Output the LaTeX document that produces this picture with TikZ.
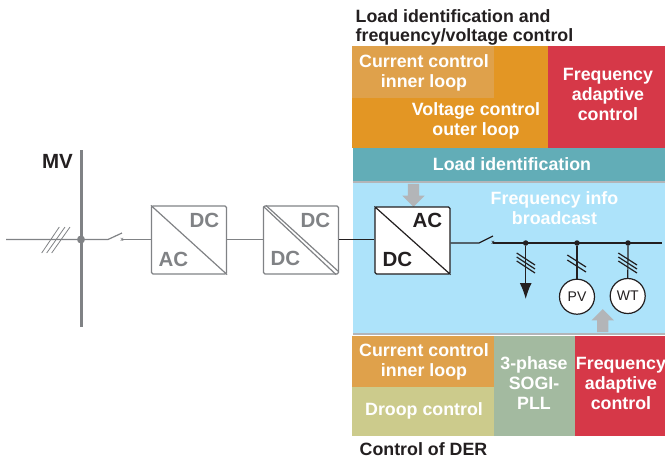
\documentclass[tikz,border=0pt]{standalone}
\usepackage{fontspec}
\setmainfont{Liberation Sans}
\usetikzlibrary{shapes}
\usetikzlibrary{shapes.arrows}
\usetikzlibrary{arrows.meta}
\definecolor{orangeb}{HTML}{E39624}
\definecolor{oranger}{HTML}{DFA14B}
\definecolor{redb}{HTML}{D63848}
\definecolor{tealb}{HTML}{62ADB7}
\definecolor{blueb}{HTML}{ADE3FA}
\definecolor{greenb}{HTML}{A3BAA0}
\definecolor{droopb}{HTML}{CCCB8C}
\definecolor{greyl}{HTML}{B3B5B8}
\definecolor{greyd}{HTML}{808285}
\definecolor{blackd}{HTML}{231F20}
\tikzset{
    box/.style = {rectangle, inner sep=0pt, align=center, text=white,font=\fontsize{17.8}{20}\selectfont\bfseries},
    boxtext/.style = {inner sep=0pt, align=center, text=white,font=\fontsize{17.8}{20}\selectfont\bfseries},
    headtext/.style = {inner sep=0pt, align=left, text=blackd,font=\fontsize{17.8}{19.5}\selectfont\bfseries},
    convg/.style = {rectangle, draw=greyd, line width=1.2pt, rounded corners=1.5pt, inner sep=0pt, minimum width=75pt, minimum height=68pt},
    convb/.style = {rectangle, draw=blackd, fill=white, line width=1.2pt, rounded corners=1.5pt, inner sep=0pt, minimum width=75pt, minimum height=67pt},
    convtextg/.style = {inner sep=0pt, text=greyd,font=\fontsize{20.5}{22}\selectfont\bfseries},
    convtextb/.style = {inner sep=0pt, text=blackd,font=\fontsize{20.5}{22}\selectfont\bfseries},
    lineg/.style = {draw=greyd, line width=1.2pt},
    lineb/.style = {draw=blackd, line width=1.2pt},
    bigarrow/.style = {single arrow, fill=greyl, inner sep=5.5pt, single arrow head extend=5.5pt, minimum height=23pt},
    junction/.style = {circle, inner sep=0pt, minimum size=5.5pt, fill=blackd},
    source/.style = {circle, draw=blackd, fill=white, line width=1.2pt, inner sep=0pt, minimum size=35pt, text=blackd, font=\fontsize{14}{16}\selectfont},
}
\begin{document}
\begin{tikzpicture}[x=1pt,y=-1pt]
  \useasboundingbox (0,0) rectangle (665,459);

  \node[box, fill=blueb, minimum width=312pt, minimum height=152pt] (feeder) at (509,258) {};
  \draw[greyl, line width=2pt] (feeder.north west) -- (feeder.north east);
  \draw[greyl, line width=2pt] (feeder.south west) -- (feeder.south east);

  \node[box, fill=orangeb, minimum width=196pt, minimum height=102pt] (outer) at (450,97) {};
  \node[box, fill=oranger, minimum width=142pt, minimum height=52pt] (inner) at (423,72) {};
  \node[boxtext] (innertext) at (424,72.5) {Current control\\inner loop};
  \node[boxtext] (outertext) at (476,121) {Voltage control\\outer loop};
  \node[box, fill=redb, minimum width=117pt, minimum height=102pt] (freqtop) at (606.5,97) {};
  \node[boxtext] (freqtoptext) at (608,94.5) {Frequency\\adaptive\\control};
  \node[box, fill=tealb, minimum width=312pt, minimum height=33pt] (loadid) at (509,164.5) {};
  \node[boxtext] (loadidtext) at (512,164) {Load identification};
  \node[headtext, anchor=west] (headtop) at (355.5,27.5) {Load identification and\\frequency/voltage control};
  \node[boxtext] (broadcast) at (554.5,208) {Frequency info\\broadcast};

  \node[box, fill=oranger, minimum width=142pt, minimum height=51pt] (innerder) at (423,361.5) {};
  \node[boxtext] (innerdertext) at (424,361.5) {Current control\\inner loop};
  \node[box, fill=droopb, minimum width=142pt, minimum height=49pt] (droop) at (423,411.5) {};
  \node[boxtext] (drooptext) at (424,410.5) {Droop control};
  \node[box, fill=greenb, minimum width=81pt, minimum height=100pt] (pll) at (534.5,386) {};
  \node[boxtext] (plltext) at (534,383) {3-phase\\SOGI-\\PLL};
  \node[box, fill=redb, minimum width=90pt, minimum height=100pt] (freqder) at (620,386) {};
  \node[boxtext] (freqdertext) at (621,383.5) {Frequency\\adaptive\\control};
  \node[headtext, anchor=west] (headder) at (359.5,449) {Control of DER};

  \node[bigarrow, shape border rotate=270] (arrowtop) at (413.5,192.5) {};
  \node[bigarrow, shape border rotate=90] (arrowder) at (602.7,323.5) {};

  % medium voltage side
  \coordinate (bustop) at (81,150);
  \coordinate (busbot) at (81,327);
  \coordinate (feedin) at (6,239.5);
  \coordinate (swaleft) at (108,239.5);
  \coordinate (swaright) at (122,239.5);
  \coordinate (swatip) at (122,233);
  \draw[greyd, line width=3pt] (bustop) -- (busbot);
  \node[circle, inner sep=0pt, minimum size=8pt, fill=greyd] (busdot) at (81,239.5) {};
  \node[font=\fontsize{20.5}{22}\selectfont\bfseries, text=blackd, inner sep=0pt] (mv) at (57.5,161) {MV};

  \node[convg] (conva) at (189,240) {};
  \node[convg] (convb) at (301,240) {};
  \node[convb] (convc) at (412.5,240.5) {};
  \node[convtextg] (dca) at (204.5,220) {DC};
  \node[convtextg] (aca) at (173.5,259) {AC};
  \node[convtextg] (dcb) at (315.5,220) {DC};
  \node[convtextg] (dcc) at (285.5,258) {DC};
  \node[convtextb] (acd) at (427.5,220) {AC};
  \node[convtextb] (dcd) at (397.5,259) {DC};

  \draw[lineg] (conva.north west) -- (conva.south east);
  \draw[lineg] ([xshift=0.5pt,yshift=-1pt]convb.north west) -- ([xshift=-3pt]convb.south east);
  \draw[lineg] ([xshift=3pt]convb.north west) -- ([xshift=-0.5pt,yshift=3pt]convb.south east);
  \draw[lineb] (convc.north west) -- (convc.south east);

  \draw[lineg] (feedin) -- (busdot) -- (swaleft) -- (swatip);
  \draw[lineg] (swaright) -- (swaright -| conva.west);
  \node[font=\fontsize{6}{6}\selectfont\bfseries, text=greyd, inner sep=0pt] (swax) at (swaright) {x};
  \draw[greyd, line width=0.8pt] (41.7,253) -- (59.3,227);
  \draw[greyd, line width=0.8pt] (46.7,253) -- (65,227);
  \draw[greyd, line width=0.8pt] (51.7,253) -- (70,227);
  \draw[lineg] (conva.east |- feedin) -- (convb.west |- feedin);
  \draw[lineb] (convb.east |- feedin) -- (convc.west |- feedin);

  % low voltage feeder
  \coordinate (swbleft) at (479,243);
  \coordinate (swbright) at (493,243);
  \coordinate (swbtip) at (493,236);
  \coordinate (feedend) at (662,243);
  \coordinate (loadend) at (525.7,299);
  \node[junction] (jload) at (525.7,243) {};
  \node[junction] (jpv) at (577,243) {};
  \node[junction] (jwt) at (628,243) {};
  \node[source] (pv) at (577,296.7) {PV};
  \node[source] (wt) at (627.7,296) {WT};

  \draw[lineb] (convc.east |- swbleft) -- (swbleft) -- (swbtip);
  \draw[lineb] (swbright) -- (feedend);
  \node[font=\fontsize{6}{6}\selectfont\bfseries, text=blackd, inner sep=0pt] (swbx) at (swbright) {x};
  \draw[lineb, -{Latex[length=16pt,width=12pt]}] (jload) -- (loadend);
  \draw[lineb] (jpv) -- (pv);
  \draw[lineb] (jwt) -- (wt);

  \draw[lineb] (516.7,253) -- (535,265);
  \draw[lineb] (516.7,257) -- (535,269);
  \draw[lineb] (516.7,261) -- (535,273);
  \draw[lineb] (567.3,255) -- (586,267);
  \draw[lineb] (567.3,260) -- (586,272);
  \draw[lineb] (618.3,253) -- (637,265);
  \draw[lineb] (618.3,257) -- (637,269);
  \draw[lineb] (618.3,261) -- (637,273);
\end{tikzpicture}
\end{document}
